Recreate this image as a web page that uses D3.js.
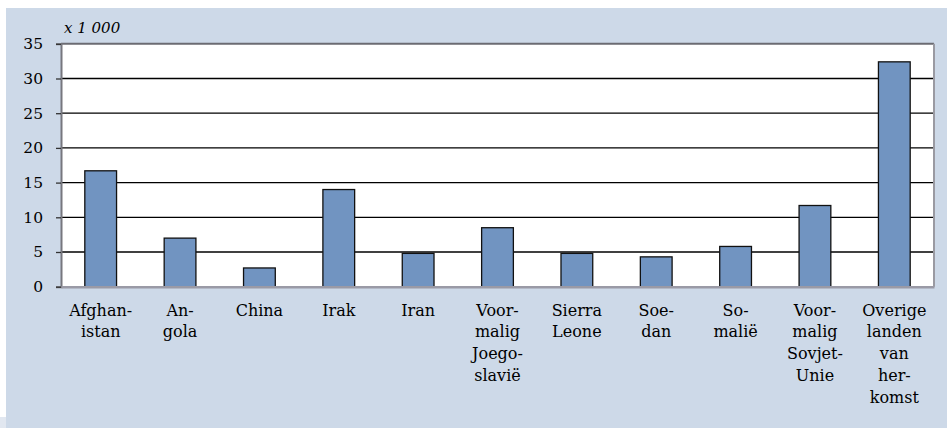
<!DOCTYPE html>
<html>
<head>
<meta charset="utf-8">
<script src="https://cdn.jsdelivr.net/npm/d3@7"></script>
<style>
  html, body { margin: 0; padding: 0; background: #ffffff; }
  svg { display: block; }
  text { font-family: "DejaVu Serif", serif; fill: #000; }
</style>
</head>
<body>
<svg id="chart" width="947" height="428"></svg>
<script>
const categories = ["Afghanistan", "Angola", "China", "Irak", "Iran", "Voormalig Joegoslavië",
  "Sierra Leone", "Soedan", "Somalië", "Voormalig Sovjet-Unie", "Overige landen van herkomst"];
const labelLines = [
  ["Afghan-", "istan"], ["An-", "gola"], ["China"], ["Irak"], ["Iran"],
  ["Voor-", "malig", "Joego-", "slavië"], ["Sierra", "Leone"], ["Soe-", "dan"],
  ["So-", "malië"], ["Voor-", "malig", "Sovjet-", "Unie"], ["Overige", "landen", "van", "her-", "komst"]
];
const values = [16.7, 7.0, 2.7, 14.0, 4.8, 8.5, 4.8, 4.3, 5.8, 11.7, 32.4];
const yTicks = [0, 5, 10, 15, 20, 25, 30, 35];
const unitLabel = "x 1 000";

const svg = d3.select("#chart");
const W = 947, H = 428;
const plot = { left: 61, right: 934, top: 43.8, bottom: 286.7 };

// background panel
svg.append("rect").attr("x", 0).attr("y", 417).attr("width", 8).attr("height", 11).attr("fill", "#e1e7f0");
svg.append("rect").attr("x", 6).attr("y", 8).attr("width", W - 6).attr("height", H - 8).attr("fill", "#cdd9e8");

const x = d3.scaleBand().domain(categories).range([plot.left, plot.right]).paddingInner(0.6).paddingOuter(0.3);
const y = d3.scaleLinear().domain([0, 35]).range([plot.bottom, plot.top]);

// plot area
svg.append("rect").attr("x", plot.left).attr("y", plot.top)
  .attr("width", plot.right - plot.left).attr("height", plot.bottom - plot.top).attr("fill", "#ffffff");

// gridlines
svg.append("g").selectAll("line").data(yTicks.filter(d => d > 0 && d < 35)).join("line")
  .attr("x1", plot.left).attr("x2", plot.right)
  .attr("y1", d => y(d)).attr("y2", d => y(d))
  .attr("stroke", "#000").attr("stroke-width", 1.3);

// top & right border
svg.append("line").attr("x1", plot.left).attr("x2", plot.right).attr("y1", plot.top).attr("y2", plot.top)
  .attr("stroke", "#6b6b72").attr("stroke-width", 2);
svg.append("line").attr("x1", plot.right).attr("x2", plot.right).attr("y1", plot.top).attr("y2", plot.bottom)
  .attr("stroke", "#9a9aa2").attr("stroke-width", 2);

// bars
svg.append("g").selectAll("rect").data(values).join("rect")
  .attr("x", (d, i) => x(categories[i]))
  .attr("width", x.bandwidth())
  .attr("y", d => y(d))
  .attr("height", d => y(0) - y(d))
  .attr("fill", "#7194c1")
  .attr("stroke", "#111")
  .attr("stroke-width", 1.3);

// y axis
const yAxis = d3.axisLeft(y).tickValues(yTicks).tickSize(5).tickPadding(13).tickFormat(d3.format("d"));
const gy = svg.append("g").attr("transform", `translate(${plot.left},0)`).call(yAxis);
gy.select(".domain").attr("stroke", "#77777e").attr("stroke-width", 2);
gy.selectAll(".tick line").attr("stroke", "#333").attr("stroke-width", 1.3);
gy.selectAll(".tick text").style("font-family", "'DejaVu Serif', serif").style("font-size", "15.5px").attr("fill", "#000");

// x axis baseline
const xAxis = d3.axisBottom(x).tickSize(0).tickFormat("");
const gx = svg.append("g").attr("transform", `translate(0,${plot.bottom})`).call(xAxis);
gx.select(".domain").attr("stroke", "#9a9aa6").attr("stroke-width", 2.5);

// category labels
const lab = svg.append("g").selectAll("text").data(categories).join("text")
  .attr("x", d => x(d) + x.bandwidth() / 2)
  .attr("y", 315.5)
  .attr("text-anchor", "middle")
  .style("font-size", "16px");
lab.each(function(d, i) {
  d3.select(this).selectAll("tspan").data(labelLines[i]).join("tspan")
    .attr("x", x(d) + x.bandwidth() / 2)
    .attr("dy", (t, j) => j === 0 ? 0 : 21.9)
    .text(t => t);
});

// unit label
svg.append("text").attr("x", 64).attr("y", 32.5)
  .style("font-style", "italic").style("font-size", "15px").text(unitLabel);
</script>
</body>
</html>
